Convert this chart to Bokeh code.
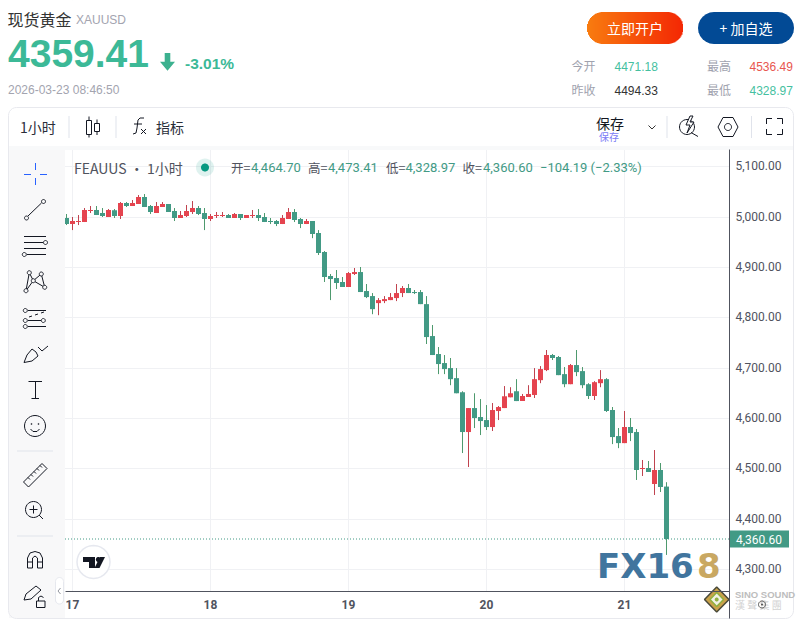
import math
from bokeh.core.properties import value
from bokeh.embed import file_html
from bokeh.resources import INLINE
from bokeh.plotting import figure
from bokeh.models import (ColumnDataSource, FixedTicker, NumeralTickFormatter, LinearAxis, Grid, Range1d)

# ---------- data ----------
bar_index = list(range(-1, 100))
opens = [4998,4986,4990,4990,5011.9,5013.9,5007.9,5000,5013.2,5001.9,5027.8,5021.8,5025.8,5039.7,5021.8,5007.9,5019.8,5025.8,5011.9,4998,5001.9,5009.9,5017.8,5007.9,4996,5001.9,5001.9,5003.9,4998,5005.9,4998,5001.9,5003.9,5000,4992,4992,4986,4996,5009.9,4996,4986,4992,4968,4930.4,
         4882.8,4878.8,4870.9,4861,4886.8,4890.7,4853,4843,4829,4833,4835,4839,4849,4859,4851,4851,4827,4763.6,4727.9,4710,4700,4680,4652,4573,4620.6,4602.8,4596.8,4582.9,4614.7,4620.6,4642,4654,
         4634.6,4642.6,4646.6,4676,4696,4726,4722,4688,4668,4706,4694,4668,4644.6,4670,4678,4616.8,4565,4551,4583,4573,4499.6,4501.6,4469.8,4497.6,4464.7]
highs = [5005.9,5000,5003.9,5017.8,5021.8,5021.8,5017.8,5015.8,5015.8,5029.7,5029.7,5033.7,5043.6,5045.6,5023.8,5029.7,5029.7,5025.8,5017.8,5011.9,5023.8,5031.7,5021.8,5017.8,5005.9,5009.9,5009.9,5005.9,5007.9,5005.9,5003.9,5013.9,5015.8,5007.9,4998,4994,5003.9,5017.8,5015.8,4998,4996,4992,4974,4932.4,
         4886.8,4894.7,4880.8,4890.7,4898.7,4900.7,4866.9,4849,4839,4843,4849,4866.9,4862.9,4866.9,4855,4855,4843,4785.5,4741.8,4725.9,4720,4700,4654,4620.6,4650,4638.5,4626.6,4630.6,4624.6,4664.3,4662,4678,
         4648.6,4666,4700,4704,4735.9,4728,4724,4702,4708,4735.9,4702,4670,4674,4696,4680,4622.7,4581,4614.8,4600.9,4579,4517.5,4515.5,4537.3,4511.5,4473.41]
lows = [4984,4974,4984,4990,5007.9,5003.9,5000,5000,4998,4996,5019.8,5021.8,5025.8,5019.8,5005.9,5007.9,5019.8,5009.9,4992,4998,5000,5005.9,5003.9,4974,4992,4998,5000,4998,4998,4994,4998,4998,4992,4990,4986,4982,4986,4996,4990,4978,4986,4958,4924.5,4870.9,
        4835,4857,4861,4861,4884.8,4851,4839,4807,4805,4829,4835,4833,4841,4849,4847,4827,4747.8,4725.9,4688,4688,4666,4650,4531.3,4503.5,4580.9,4567,4577,4575,4596.8,4620.6,4642,4634.5,
        4634.6,4642.6,4640.6,4670,4694,4716,4686,4662,4668,4684,4660,4638.6,4636.6,4662,4612.8,4549,4541,4551,4555,4477.8,4485.7,4493.6,4448,4453.9,4328.97]
closes = [4986,4992,4992,5013.9,5013.9,5003.9,5001.9,5013.9,5001.9,5027.8,5021.8,5027.8,5039.7,5019.8,5009.9,5021.8,5025.8,5009.9,4998,5003.9,5011.9,5017.8,5005.9,4996,5001.9,5003.9,5003.9,4998,5005.9,4998,5003.9,5003.9,4998,4990,4990,4986,4998,5009.9,4994,4986,4992,4966,4928.5,4880.8,
          4876.8,4868.9,4861,4888.7,4890.7,4851,4841,4817,4835,4837,4841,4849,4859,4849,4849,4827,4761.6,4725.9,4708,4698,4678,4650,4573,4620.6,4600.8,4594.8,4582.9,4616.7,4622.6,4644,4650,4634.5,
          4644.6,4648.6,4678,4698,4726,4720,4686,4668,4706,4692,4666,4644.6,4672,4678,4614.8,4563,4551,4583,4571,4497.6,4501.6,4493.6,4497.6,4463.9,4360.60]
day_ticks = [0, 23, 46, 69, 92]
day_labels = ["17", "18", "19", "20", "21"]
price_ticks = [4300, 4400, 4500, 4600, 4700, 4800, 4900, 5000, 5100]
last_price_label = "4,360.60"
header_name = "现货黄金"
header_code = "XAUUSD"
header_price = "4359.41"
header_change = "-3.01%"
header_time = "2026-03-23 08:46:50"
legend_open, legend_high, legend_low, legend_close = "4,464.70", "4,473.41", "4,328.97", "4,360.60"
legend_delta = "−104.19 (−2.33%)"

# ---------- palette ----------
UP, DOWN = "#E5444F", "#429A85"
UP_WICK, DOWN_WICK = "#C0434F", "#4E9A6E"
INK, GREY, SEP = "#131722", "#A0A2AE", "#E0E3EB"
AX = "#50535E"
TEAL = "#3CB997"
CJK, LAT, TV = "Noto Sans CJK SC", "Liberation Sans", "Roboto"
W, H = 803, 621


# The frame covers the page; the default ranges are page pixels, the named ranges are the chart's scales.
# Bokeh paints with a half-pixel translation, hence the 0.5 in the ranges.
def bar_at(px):
    return (px - 72.5) / 6


def price_at(py):
    return 5000 - (py - 217) / 0.5036


p = figure(width=W, height=H, output_backend="svg", toolbar_location=None,
           x_axis_type=None, y_axis_type=None,
           x_range=Range1d(0.5, W + 0.5), y_range=Range1d(H + 0.5, 0.5),
           min_border_left=0, min_border_right=0, min_border_top=0, min_border_bottom=0)
p.extra_x_ranges["bars"] = Range1d(bar_at(0.5), bar_at(W + 0.5))
p.extra_y_ranges["price"] = Range1d(price_at(H + 0.5), price_at(0.5))
# same scale, raised a little so that the axis texts sit level with the reference's
p.extra_y_ranges["price_labels"] = Range1d(price_at(H + 1.5), price_at(1.5))
p.outline_line_color = None
p.background_fill_color = "white"
p.border_fill_color = "white"
p.xgrid.visible = False
p.ygrid.visible = False

p.add_layout(Grid(dimension=0, ticker=FixedTicker(ticks=day_ticks), grid_line_color="#F0F1F4",
                  x_range_name="bars", y_range_name="price"))
p.add_layout(Grid(dimension=1, ticker=FixedTicker(ticks=price_ticks), grid_line_color="#F0F1F4",
                  x_range_name="bars", y_range_name="price"))

yax = LinearAxis(ticker=FixedTicker(ticks=price_ticks), formatter=NumeralTickFormatter(format="0,0.00"),
                 x_range_name="bars", y_range_name="price_labels",
                 fixed_location=bar_at(729.5), bounds=(price_at(619), price_at(150)))
yax.major_tick_in = 0
yax.major_tick_out = 0
yax.minor_tick_line_color = None
yax.major_tick_line_color = None
yax.major_label_text_font = TV
yax.major_label_text_font_size = "12px"
yax.major_label_text_color = AX
yax.major_label_standoff = 6
yax.axis_line_color = AX
p.add_layout(yax, "right")

xax = LinearAxis(ticker=FixedTicker(ticks=day_ticks),
                 major_label_overrides={t: s for t, s in zip(day_ticks, day_labels)},
                 x_range_name="bars", y_range_name="price",
                 fixed_location=price_at(591.5), bounds=(bar_at(65), bar_at(729.5)))
xax.major_tick_in = 0
xax.major_tick_out = 0
xax.minor_tick_line_color = None
xax.major_tick_line_color = None
xax.major_label_text_font = TV
xax.major_label_text_font_size = "12px"
xax.major_label_text_font_style = "bold"
xax.major_label_text_color = AX
xax.major_label_standoff = 8
xax.axis_line_color = AX
p.add_layout(xax, "below")


# ---------- page furniture, in page pixels ----------
def box(l, t, r, b, fill="white", line=None, radius=0, lw=1):
    if radius:
        pts = []
        for cx, cy, a0 in ((r - radius, t + radius, -90), (r - radius, b - radius, 0),
                           (l + radius, b - radius, 90), (l + radius, t + radius, 180)):
            for k in range(7):
                a = math.radians(a0 + 15 * k)
                pts.append((cx + radius * math.cos(a), cy + radius * math.sin(a)))
    else:
        pts = [(l, t), (r, t), (r, b), (l, b)]
    poly(pts, fill, line, lw)


def poly(pts, fill=None, line=None, lw=1.0, alpha=1.0):
    p.patch([a for a, _ in pts], [b for _, b in pts],
            fill_color=fill or "white", fill_alpha=alpha if fill else 0,
            line_color=line or "white", line_alpha=1 if line else 0, line_width=lw)


def path(pts, color=INK, lw=1.0):
    p.line([a for a, _ in pts], [b for _, b in pts], line_color=color, line_width=lw)


def ring(cx, cy, r, fill=None, line=INK, lw=1.0, alpha=1.0):
    poly([(cx + r * math.cos(t * math.pi / 14), cy + r * math.sin(t * math.pi / 14)) for t in range(28)],
         fill=fill, line=line, lw=lw, alpha=alpha)


def text(x, y, s, size=12, color=INK, font=CJK, bold=False, align="left"):
    p.text([x], [y], text=[s], text_font=value(font), text_font_size=f"{size}px", text_color=color,
           text_font_style="bold" if bold else "normal", text_align=align, text_baseline="middle")


# white covers keep the grid inside the plotting pane
for r_ in ((0, 0, W + 1, 150), (0, 150, 65, H + 1), (730, 150, W + 1, H + 1), (65, 592, 730, H + 1)):
    box(*r_)

# candles
src = ColumnDataSource(dict(
    x=bar_index, o=opens, h=highs, l=lows, c=closes,
    top=[max(a, b) for a, b in zip(opens, closes)],
    bot=[min(a, b) for a, b in zip(opens, closes)],
    body=[UP if c > o else DOWN for o, c in zip(opens, closes)],
    wick=[UP_WICK if c > o else DOWN_WICK for o, c in zip(opens, closes)],
))
p.segment("x", "h", "x", "l", color="wick", line_width=1, source=src, x_range_name="bars", y_range_name="price")
p.vbar("x", 5 / 6, "bot", "top", fill_color="body", line_color=None, source=src,
       x_range_name="bars", y_range_name="price")
# last-price line
p.segment([bar_at(65)], [closes[-1]], [bar_at(729)], [closes[-1]], line_color=DOWN, line_width=1, line_dash="1 2",
          x_range_name="bars", y_range_name="price")

# header
text(7.5, 19, header_name, 16, "#333333")
text(76, 20, header_code, 12, "#A3A4AF", LAT)
text(8, 53.5, header_price, 39, TEAL, LAT, True)
poly([(164.7, 53), (170.3, 53), (170.3, 61.7), (175, 61.7), (167.5, 70.7), (160, 61.7), (164.7, 61.7)], fill="#3CB18F")
text(185, 63, header_change, 15.5, TEAL, LAT, True)
text(8, 89.5, header_time, 12, "#A3A4AF", LAT)

# gradient button (each strip runs under the next one, so no seams show)
for i in range(96):
    f = i / 95
    cx = i + 0.5
    d = max(16 - cx, cx - 80, 0)
    half = math.sqrt(max(16 * 16 - d * d, 0))
    col = "#%02x%02x%02x" % (int(249 - 5 * f), int(124 - 84 * f), int(16 - 12 * f))
    box(587 + i, 28 - half, 588 + i + (0.5 if i < 95 else 0), 28 + half, fill=col)
text(635, 28, "立即开户", 14, "white", align="center")
box(698, 12, 794, 44, fill="#024A95", radius=16)
text(746, 28, "+ 加自选", 14, "white", align="center")

# quote block
text(571.5, 65.5, "今开", 12, GREY)
text(614.5, 66, "4471.18", 12, "#45BFA0", LAT)
text(707, 65.5, "最高", 12, GREY)
text(749.5, 66, "4536.49", 12, "#E8564F", LAT)
text(571.5, 89.5, "昨收", 12, GREY)
text(614.5, 90, "4494.33", 12, "#333333", LAT)
text(707, 89.5, "最低", 12, GREY)
text(749.5, 90, "4328.97", 12, "#45BFA0", LAT)

# chart card
box(9, 146, 793, 150, fill="#F8F9FA")
box(9, 150, 65, 618, fill="#F8F8F9")
box(8.5, 107.5, 793.5, 618.5, fill=None, line="#E8E9EE", radius=8)

# top toolbar
text(20, 127, "1小时", 14, "#2A2E39")
for sx in (68.5, 115.5, 666.5, 751):
    box(sx, 116, sx + 1, 138, fill=SEP)
box(86.5, 120.5, 91.5, 134.5, fill=None, line=INK)
path([(89, 116.5), (89, 120.5)])
path([(89, 134.5), (89, 137.5)])
box(94.5, 123.5, 99.5, 131.5, fill=None, line=INK)
path([(97, 119.5), (97, 123.5)])
path([(97, 131.5), (97, 135)])
path([(133, 134), (136, 133), (137, 128), (138, 120), (140, 118), (144, 118)])
path([(134, 124), (142, 124)])
path([(141, 129), (146, 134)])
path([(146, 129), (141, 134)])
text(156, 127, "指标", 14, "#2A2E39")
text(596, 123, "保存", 14, INK)
text(599, 136.5, "保存", 10, "#7B7BF5")
path([(648.5, 125.5), (652, 129), (655.5, 125.5)], "#333333")
ring(687, 127, 7.5)
poly([(690, 116), (686, 125), (690, 125), (687, 133), (694, 122), (690, 122), (693, 116)], fill="white", line=INK)
path([(691, 132.5), (698, 136.5)])
poly([(718, 127), (723, 117.5), (733, 117.5), (738, 127), (733, 136.5), (723, 136.5)], line=INK)
ring(728, 127, 3.5)
for a, b, c, d, e, f_ in [(766.5, 124, 766.5, 118.5, 772, 118.5), (777, 118.5, 782.5, 118.5, 782.5, 124),
                          (766.5, 129, 766.5, 134.5, 772, 134.5), (777, 134.5, 782.5, 134.5, 782.5, 129)]:
    path([(a, b), (c, d), (e, f_)])

# legend
text(74, 167.5, "FEAUUS · 1小时", 14, AX)
ring(205, 167.5, 9, fill="#089981", line=None, alpha=0.13)
ring(205, 167.5, 4, fill="#089981", line=None)
for lx, lab, vx, val in [(231, "开=", 251, legend_open), (308, "高=", 328, legend_high),
                         (386, "低=", 405.5, legend_low), (462.5, "收=", 483, legend_close)]:
    text(lx, 167.5, lab, 12.5, AX)
    text(vx, 167.5, val, 13, DOWN, TV)
text(540, 167.5, legend_delta, 13, DOWN, TV)

# left tools
BLUE = "#2962FF"
path([(24, 174.5), (31, 174.5)], BLUE)
path([(40, 174.5), (47, 174.5)], BLUE)
path([(35.5, 163), (35.5, 170)], BLUE)
path([(35.5, 178), (35.5, 185)], BLUE)
path([(28, 216), (41.5, 203)])
ring(26.5, 218, 2)
ring(43.5, 201.5, 2)
path([(24, 236.5), (46, 236.5)])
path([(24, 242.5), (43, 242.5)])
ring(45.5, 242.5, 2)
path([(24, 248.5), (46, 248.5)])
path([(27, 254.5), (46, 254.5)])
ring(24.3, 254.5, 2)
A, B, C, D, E = (29.3, 272.7), (41.3, 274), (33.3, 280.7), (26, 290.7), (44.7, 287.3)
path([D, A, C, B, E, C, D])
for q in (A, B, C, D, E):
    ring(q[0], q[1], 2, fill="#F8F8F9", line=INK)
path([(28, 310.5), (46, 310.5)])
path([(28, 320.5), (41, 320.5)])
path([(28, 326.5), (46, 326.5)])
for q in ((25.3, 310.5), (25.3, 320.5), (25.3, 326.5), (43.3, 320.5)):
    ring(q[0], q[1], 2)
path([(29, 317), (32, 316)])
path([(35, 315), (38, 314)])
path([(41, 313), (44, 312)])
poly([(24, 362.5), (27, 355), (32, 349), (36, 352), (38, 356), (32, 361)], line=INK)
path([(38, 347), (42, 351), (48, 346)])
path([(28.5, 381.5), (42, 381.5)])
path([(35.5, 381.5), (35.5, 398)])
path([(31.5, 398.5), (39, 398.5)])
ring(35, 426, 10.5)
ring(31.5, 424, 0.5)
ring(38.5, 424, 0.5)
path([(30.5, 429), (33, 431.5), (37, 431.5), (39.5, 429)])
box(17, 450.5, 53, 451.5, fill=SEP)
box(17, 535.5, 53, 536.5, fill=SEP)
poly([(23.5, 482), (42, 463.5), (47, 468.5), (28.5, 487)], line=INK)
for k in range(5):
    path([(28 + 3 * k, 477.5 - 3 * k), (30 + 3 * k, 479.5 - 3 * k)])
ring(33.5, 509.5, 8)
path([(29.5, 509.5), (37.5, 509.5)])
path([(33.5, 505.5), (33.5, 513.5)])
path([(39, 515), (43, 519)])
path([(27.5, 568), (27.5, 558), (30, 553), (35, 551.5), (40, 553), (42.5, 558), (42.5, 568), (37.5, 568),
      (37.5, 558), (35, 556), (32.5, 558), (32.5, 568), (27.5, 568)])
path([(27.5, 562), (32.5, 562)])
path([(37.5, 562), (42.5, 562)])
poly([(24, 600), (26, 594), (36, 586), (41, 590), (31, 599)], line=INK)
box(36.5, 601, 45, 607.5, fill=None, line=INK)
path([(38.5, 601), (38.5, 597.5), (41, 596), (43.5, 597.5)])
box(55.5, 577.5, 63.5, 604, fill="white", line="#E6E8EE", radius=4)
path([(60.5, 588), (58, 591), (60.5, 594)], "#9598A1")

# TradingView badge
ring(93.5, 562, 16.5, fill="white", line="#E6E8EF", lw=1.5)
poly([(83, 557), (95, 557), (95, 568), (89, 568), (89, 562), (83, 562)], fill=INK)
ring(98.3, 559.5, 2.5, fill=INK, line=None)
poly([(100, 557), (105, 557), (99.5, 568), (94.5, 568)], fill=INK)

# last-price tag, tied to the last close through the price scale
p.rect([759.5], [closes[-1]], width=59, height=17, height_units="screen", fill_color=DOWN, line_color=None,
       y_range_name="price")
p.text([736], [closes[-1]], text=[last_price_label], text_font=value(TV), text_font_size="12px", text_color="white",
       text_baseline="middle", y_range_name="price")

# watermark logos
text(597, 565.5, "FX16", 34, "#41759E", "DejaVu Sans", True)
text(697, 565.5, "8", 34, "#C9A862", "DejaVu Sans", True)
poly([(716.7, 587), (729, 599.5), (716.7, 612), (704.5, 599.5)], fill="#C9A24A", line="#4A4A3A", lw=1.5)
poly([(716.7, 592.5), (723.5, 599.5), (716.7, 606.5), (710, 599.5)], fill="#F2F2E6", line="#8FB040", lw=1.5)
ring(716.7, 599.5, 2, fill="#8FB040", line=None)
text(735, 594, "SINO SOUND", 9.5, "#BDBDBD", LAT, True)
text(735, 604.5, "漢   聲   集   團", 10, "#D2D2D2")
ring(762, 604.5, 3.5, line="#555555")
ring(762, 604.5, 1, fill="#555555", line=None)

open("out.html", "w").write(file_html(p, INLINE))
